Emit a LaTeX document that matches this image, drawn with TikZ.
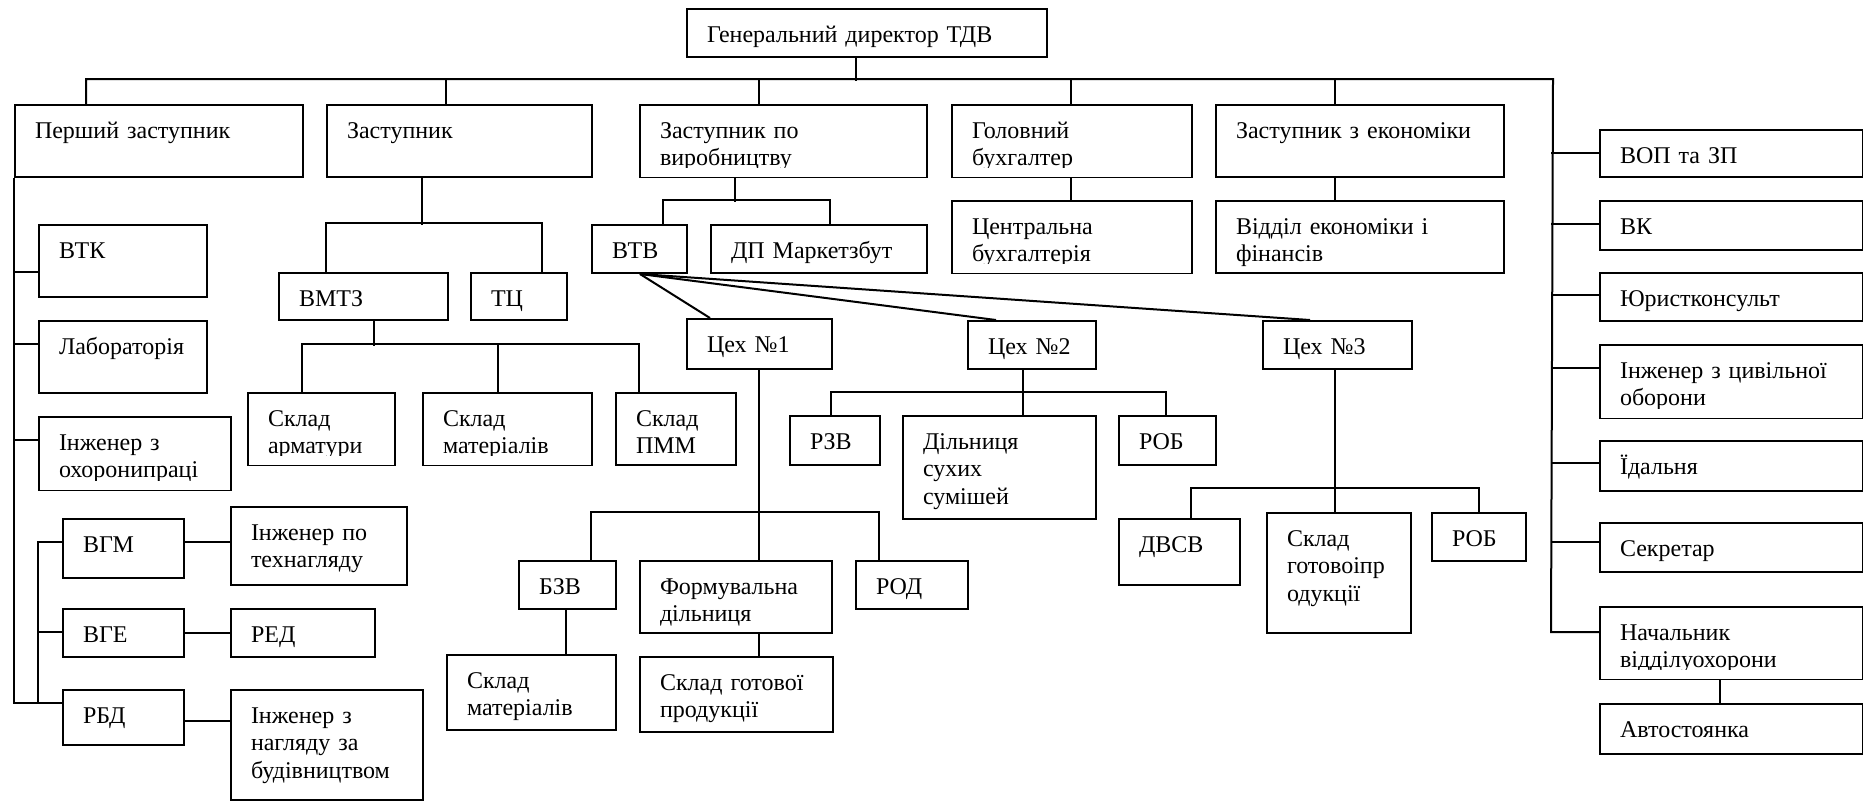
\documentclass[tikz,border=0pt]{standalone}
\usepackage{fontspec}
\setmainfont{Liberation Serif}
\usetikzlibrary{calc}

\begin{document}
\begin{tikzpicture}[x=0.5pt, y=-0.5pt,
    every node/.style={font=\fontsize{12}{13.8}\selectfont},
    box/.style 2 args={draw, line width=1pt, anchor=north west,
        inner xsep=0pt, inner ysep=0pt, align=left,
        text width=#1*0.5pt, text height=16.5pt, text depth=#2*0.5pt-16.5pt,
        execute at begin node={\leftskip=10pt\relax}},
    link/.style={line width=1pt}]
    \useasboundingbox (0,0) rectangle (1863,800);

    % top level
    \node[box={360}{48}, align=center, execute at begin node={}] (gd) at (686,8) {Генеральний директор ТДВ};
    \node[box={288}{72}] (p1) at (14,104) {Перший заступник};
    \node[box={265}{72}] (z) at (326,104) {Заступник};
    \node[box={287}{72}] (zv) at (639,104) {Заступник по\\виробництву};
    \node[box={240}{72}] (gb) at (951,104) {Головний\\бухгалтер};
    \node[box={288}{72}] (ze) at (1215,104) {Заступник з економіки};

    % first deputy
    \node[box={168}{72}] (vtk) at (38,224) {ВТК};
    \node[box={168}{72}] (lab) at (38,320) {Лабораторія};
    \node[box={192}{73}] (ohp) at (38,416) {Інженер з\\охоронипраці};
    \node[box={121}{59}] (vgm) at (62,518) {ВГМ};
    \node[box={121}{48}] (vge) at (62,608) {ВГЕ};
    \node[box={121}{55}] (rbd) at (62,689) {РБД};
    \node[box={176}{78}] (itn) at (230,506) {Інженер по\\технагляду};
    \node[box={144}{48}] (red) at (230,608) {РЕД};
    \node[box={192}{110}] (inb) at (230,689) {Інженер з\\нагляду за\\будівництвом};

    % deputy
    \node[box={169}{47}] (vmtz) at (278,272) {ВМТЗ};
    \node[box={96}{47}] (tc) at (470,272) {ТЦ};
    \node[box={147}{72}] (ska) at (247,392) {Склад\\арматури};
    \node[box={169}{72}] (skm) at (422,392) {Склад\\матеріалів};
    \node[box={120}{72}] (skp) at (615,392) {Склад\\ПММ};

    % production
    \node[box={95}{48}] (vtv) at (591,224) {ВТВ};
    \node[box={216}{48}] (dp) at (710,224) {ДП Маркетзбут};
    \node[box={145}{50}] (c1) at (686,318) {Цех №1};
    \node[box={128}{48}] (c2) at (967,320) {Цех №2};
    \node[box={149}{48}] (c3) at (1262,320) {Цех №3};
    \node[box={97}{48}] (bzv) at (518,560) {БЗВ};
    \node[box={192}{72}] (fd) at (639,560) {Формувальна\\дільниця};
    \node[box={112}{48}] (rod) at (855,560) {РОД};
    \node[box={169}{75}] (skm2) at (446,654) {Склад\\матеріалів};
    \node[box={193}{75}] (sgp) at (639,656) {Склад готової\\продукції};
    \node[box={90}{49}] (rzv) at (789,415) {РЗВ};
    \node[box={193}{103}] (dss) at (902,415) {Дільниця\\сухих\\сумішей};
    \node[box={97}{49}] (rob2) at (1118,415) {РОБ};
    \node[box={121}{66}] (dvsv) at (1118,518) {ДВСВ};
    \node[box={144}{120}] (sgp3) at (1266,512) {Склад\\готовоіпр\\одукції};
    \node[box={94}{48}] (rob3) at (1431,512) {РОБ};

    % accounting, economics
    \node[box={240}{72}] (cb) at (951,200) {Центральна\\бухгалтерія};
    \node[box={288}{72}] (ve) at (1215,200) {Відділ економіки і\\фінансів};

    % right column
    \node[box={263}{47}] (vop) at (1599,129) {ВОП та ЗП};
    \node[box={263}{49}] (vk) at (1599,200) {ВК};
    \node[box={263}{48}] (jur) at (1599,272) {Юристконсульт};
    \node[box={263}{73}] (icz) at (1599,344) {Інженер з цивільної\\оборони};
    \node[box={263}{50}] (ida) at (1599,440) {Їдальня};
    \node[box={263}{49}] (sek) at (1599,522) {Секретар};
    \node[box={263}{72}] (nvo) at (1599,606) {Начальник\\відділуохорони};
    \node[box={263}{50}] (avt) at (1599,703) {Автостоянка};

    % text cut off at the bottom margin
    \foreach \n in {zv,gb,cb,ska,skm,ohp,icz,nvo}
        \fill[white] ($(\n.south west)+(2,-10)$) rectangle ($(\n.south east)+(-2,-1.2)$);

    % bus
    \coordinate (bus-e) at ($(ze.north east)+(48,-25)$);
    \draw[link] ($(gd.south)+(-11,0)$) -- ++(0,23);
    \draw[link] ($(p1.north west)+(72,0)$) |- (bus-e) -- ($(nvo.north west)+(-48,26)$) -- ($(nvo.north west)+(0,26)$);
    \foreach \n in {z,zv,gb,ze}
        \draw[link] ($(\n.north west)+(120,0)$) -- ++(0,-25);
    \foreach \n/\dy in {vop/24, vk/24, jur/23, icz/24, ida/23, sek/20}
        \draw[link] ($(\n.north west)+(0,\dy)$) -- ++(-48,0);
    \draw[link] ($(nvo.south west)+(121,0)$) -- ($(avt.north west)+(121,0)$);
    \draw[link] ($(gb.south west)+(120,0)$) -- ($(cb.north west)+(120,0)$);
    \draw[link] ($(ze.south west)+(120,0)$) -- ($(ve.north west)+(120,0)$);

    % left side
    \draw[link] (p1.south west) |- ($(rbd.north west)+(0,14)$);
    \foreach \n/\dy in {vtk/48, lab/24, ohp/24, vge/24}
        \draw[link] ($(\n.north west)+(0,\dy)$) -- ++(-24,0);
    \draw[link] ($(vgm.north west)+(0,24)$) -| ($(rbd.north west)+(-24,14)$);
    \draw[link] ($(vgm.north east)+(0,24)$) -- ($(itn.north west)+(0,36)$);
    \draw[link] (vge.east) -- (red.west);
    \draw[link] ($(rbd.north east)+(0,32)$) -- ($(inb.north west)+(0,32)$);

    % deputy
    \draw[link] ($(z.south west)+(96,0)$) -- ++(0,47);
    \draw[link] ($(vmtz.north west)+(48,0)$) |- ($(tc.north west)+(72,-49)$) -- ($(tc.north west)+(72,0)$);
    \draw[link] ($(vmtz.south west)+(96,0)$) -- ++(0,25);
    \draw[link] ($(ska.north west)+(55,0)$) |- ($(skp.north west)+(24,-48)$) -- ($(skp.north west)+(24,0)$);
    \draw[link] ($(skm.north west)+(76,0)$) -- ++(0,-48);

    % production
    \draw[link] ($(zv.south west)+(96,0)$) -- ++(0,24);
    \draw[link] ($(vtv.north west)+(72,0)$) |- ($(dp.north west)+(120,-24)$) -- ($(dp.north west)+(120,0)$);
    \coordinate (fan) at ($(vtv.south west)+(49,0)$);
    \draw[link] (fan) -- ($(c1.north west)+(24,0)$);
    \draw[link] (fan) -- ($(c2.north west)+(29,0)$);
    \draw[link] (fan) -- ($(c3.north west)+(48,0)$);

    \draw[link] ($(c1.south west)+(73,0)$) -- ($(fd.north west)+(120,0)$);
    \draw[link] ($(bzv.north west)+(73,0)$) |- ($(rod.north west)+(24,-48)$) -- ($(rod.north west)+(24,0)$);
    \draw[link] ($(bzv.south west)+(48,0)$) -- ($(skm2.north west)+(120,0)$);
    \draw[link] ($(fd.south west)+(120,0)$) -- ($(sgp.north west)+(120,0)$);

    \draw[link] ($(c2.south west)+(56,0)$) -- ($(dss.north west)+(121,0)$);
    \draw[link] ($(rzv.north west)+(42,0)$) |- ($(rob2.north west)+(48,-23)$) -- ($(rob2.north west)+(48,0)$);

    \draw[link] ($(c3.south west)+(73,0)$) -- ($(sgp3.north west)+(69,0)$);
    \draw[link] ($(dvsv.north west)+(73,0)$) |- ($(rob3.north west)+(48,-24)$) -- ($(rob3.north west)+(48,0)$);
\end{tikzpicture}
\end{document}
